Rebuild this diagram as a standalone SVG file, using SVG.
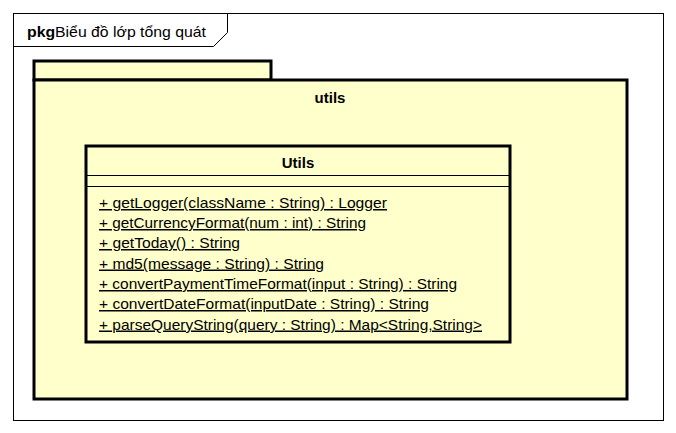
<svg xmlns="http://www.w3.org/2000/svg" width="676" height="433" viewBox="0 0 676 433">
<style>
text{font-family:"Liberation Sans",Arial,sans-serif;fill:#000}
.m{font-size:15px;text-decoration:underline}
.b{font-weight:bold}
.pk{fill:#FFFFCC;stroke:#000;stroke-width:3}
</style>
<rect width="676" height="433" fill="#fff"/>
<g id="frame">
<rect x="13.5" y="13.5" width="650" height="407" fill="none" stroke="#000" stroke-width="1"/>
<path d="M13.5 46.5 H213.5 L227.5 32.5 V13.5" fill="none" stroke="#000" stroke-width="1"/>
<text x="27" y="37" font-size="15" textLength="179" lengthAdjust="spacingAndGlyphs"><tspan class="b">pkg</tspan>Biểu đồ lớp tổng quát</text>
</g>
<g id="utils-package">
<rect class="pk" x="34" y="61" width="237" height="19"/>
<rect class="pk" x="34" y="80" width="593" height="319"/>
<text x="330" y="103" font-size="15" class="b" text-anchor="middle">utils</text>
</g>
<g id="Utils-class">
<rect x="86" y="146" width="424" height="196" fill="#FFFFCC" stroke="#000" stroke-width="3"/>
<line x1="86" y1="175.5" x2="510" y2="175.5" stroke="#000" stroke-width="1"/>
<line x1="86" y1="186.5" x2="510" y2="186.5" stroke="#000" stroke-width="1"/>
<text x="298" y="168" font-size="15" class="b" text-anchor="middle">Utils</text>
<text class="m" x="99" y="208" textLength="288" lengthAdjust="spacingAndGlyphs">+ getLogger(className : String) : Logger</text>
<text class="m" x="99" y="228" textLength="267" lengthAdjust="spacingAndGlyphs">+ getCurrencyFormat(num : int) : String</text>
<text class="m" x="99" y="248" textLength="141" lengthAdjust="spacingAndGlyphs">+ getToday() : String</text>
<text class="m" x="99" y="268.5" textLength="225" lengthAdjust="spacingAndGlyphs">+ md5(message : String) : String</text>
<text class="m" x="99" y="289" textLength="358" lengthAdjust="spacingAndGlyphs">+ convertPaymentTimeFormat(input : String) : String</text>
<text class="m" x="99" y="309" textLength="330" lengthAdjust="spacingAndGlyphs">+ convertDateFormat(inputDate : String) : String</text>
<text class="m" x="99" y="329.5" textLength="383" lengthAdjust="spacingAndGlyphs">+ parseQueryString(query : String) : Map&lt;String,String&gt;</text>
</g>
<g id="connectors"/>
</svg>
